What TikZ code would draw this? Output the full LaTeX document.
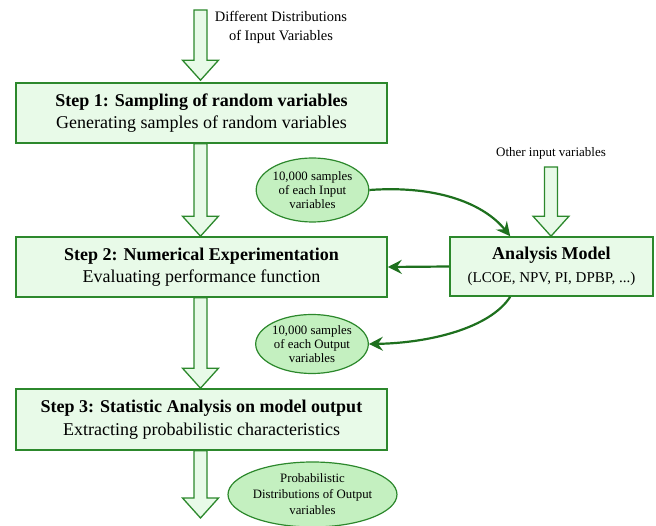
\documentclass[tikz,border=0pt]{standalone}
\usepackage{fontspec}
\setmainfont{Liberation Serif}
\usetikzlibrary{arrows.meta,calc,shapes.geometric}
\definecolor{bordergreen}{RGB}{44,136,44}
\definecolor{linkgreen}{RGB}{30,112,30}
\definecolor{boxfill}{RGB}{232,250,232}
\definecolor{ellfill}{RGB}{196,240,192}
\tikzset{
  stepbox/.style={draw=bordergreen,line width=1.6pt,fill=boxfill,minimum width=371pt,minimum height=60pt,inner sep=0pt,align=center,font=\fontsize{18}{22.5}\selectfont},
  modelbox/.style={draw=bordergreen,line width=1.6pt,fill=boxfill,minimum width=203pt,minimum height=59pt,inner sep=0pt,align=center,font=\fontsize{18}{22.5}\selectfont},
  ellnode/.style={ellipse,draw=bordergreen,line width=1.2pt,fill=ellfill,inner sep=0pt,align=center,font=\fontsize{12.8}{13.8}\selectfont},
  plain/.style={inner sep=0pt,align=center,font=\fontsize{14.5}{19}\selectfont},
  barrow/.style={draw=bordergreen,line width=1.3pt,fill=boxfill,line join=miter},
  link/.style={draw=linkgreen,line width=2.2pt,-{Stealth[length=14pt,width=14pt,inset=5pt]}}
}
\newcommand{\blockarr}[2]{%
  \draw[barrow] let \p1=(#1), \p2=(#2) in
    (\x1-6.5pt,\y1) -- (\x1-6.5pt,\y2+20pt) -- (\x1-18pt,\y2+20pt) -- (\x1,\y2)
    -- (\x1+18pt,\y2+20pt) -- (\x1+6.5pt,\y2+20pt) -- (\x1+6.5pt,\y1) -- cycle;}
\begin{document}
\begin{tikzpicture}[x=1pt,y=-1pt]
\useasboundingbox (0,0) rectangle (656,526);
% boxes
\node[stepbox] (s1) at (201.5,113) {\textbf{Step 1: Sampling of random variables}\\Generating samples of random variables};
\node[stepbox] (s2) at (201.5,267) {\textbf{Step 2: Numerical Experimentation}\\Evaluating performance function};
\node[stepbox,minimum height=61pt] (s3) at (201.5,419.5) {\textbf{Step 3: Statistic Analysis on model output}\\Extracting probabilistic characteristics};
\node[modelbox] (am) at (551.5,266.5) {\textbf{Analysis Model}\\{\fontsize{15}{22.5}\selectfont (LCOE, NPV, PI, DPBP, ...)}};
% ellipses
\node[ellnode,minimum width=111pt,minimum height=64pt] (e1) at (312.5,190) {10,000 samples\\of each Input\\variables};
\node[ellnode,minimum width=112pt,minimum height=59pt] (e2) at (312,344) {10,000 samples\\of each Output\\variables};
\node[ellnode,minimum width=161pt,minimum height=65pt,font=\fontsize{12.8}{16}\selectfont] (e3) at (312.5,494.5) {Probabilistic\\Distributions of Output\\variables};
% plain labels
\node[plain] (tin) at (281,27.5) {Different Distributions\\of Input Variables};
\node[plain,font=\fontsize{13}{15}\selectfont] (oin) at (551,153) {Other input variables};
% free ends
\coordinate (topstart) at (200.5,10);
\coordinate (oinstart) at (551,167);
\coordinate (endtip) at (200.5,518);
% block arrows
\blockarr{topstart}{$(s1.north)+(-1,-2)$}
\blockarr{$(s1.south)+(-1,0)$}{$(s2.north)+(-1,0)$}
\blockarr{$(s2.south)+(-1,0)$}{$(s3.north)+(-1,0)$}
\blockarr{$(s3.south)+(-1,0)$}{endtip}
\blockarr{oinstart}{am.north}
% curved links
\draw[link] (am.west) -- (s2.east);
\draw[link] (e1.east) .. controls (440,185) and (485,205) .. ($(am.north west)+(61,0)$);
\draw[link] ($(am.south west)+(61,0)$) .. controls (490,328) and (430,343) .. (e2.east);
\end{tikzpicture}
\end{document}
